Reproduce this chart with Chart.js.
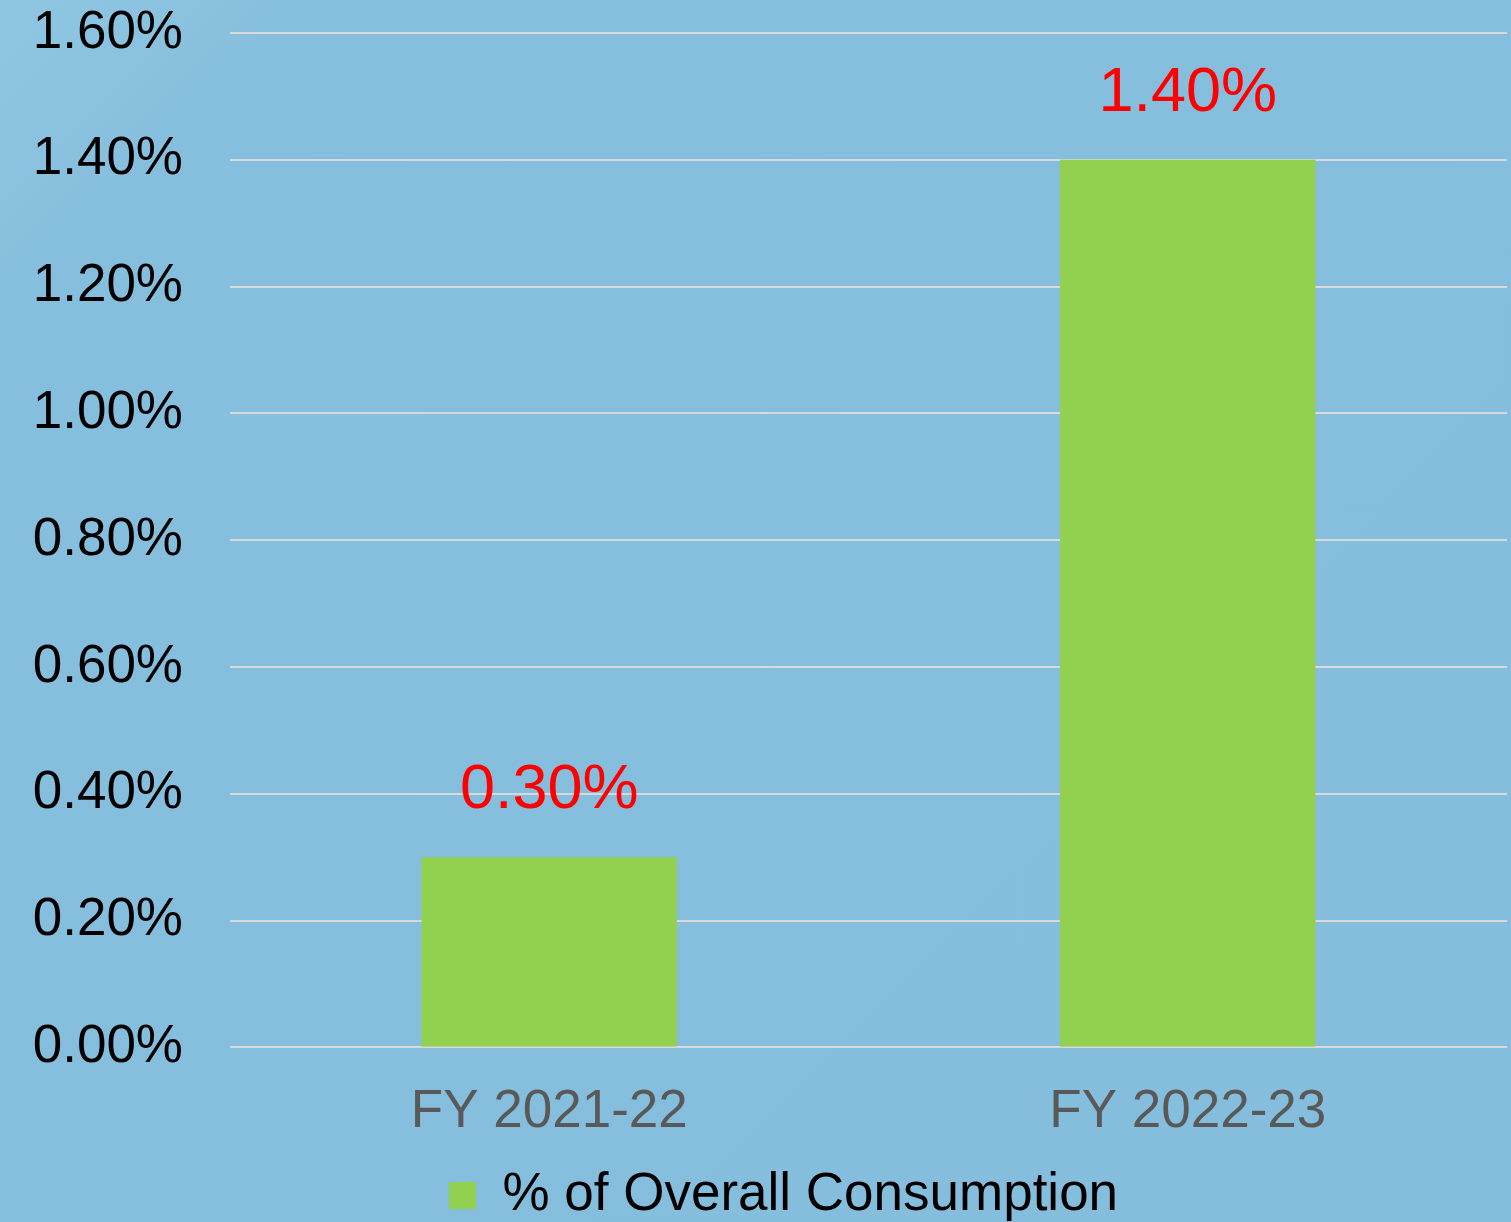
<!DOCTYPE html>
<html>
<head>
<meta charset="utf-8">
<script src="https://cdn.jsdelivr.net/npm/chart.js@4/dist/chart.umd.min.js"></script>
<style>
  html, body { margin: 0; padding: 0; }
  #wrap {
    width: 1511px; height: 1222px;
    background: linear-gradient(135deg, #8fc6e2 0%, #86bedd 12%, #85bddc 100%);
  }
</style>
</head>
<body>
<div id="wrap"><canvas id="chart"></canvas></div>
<script>
// ================== Data ==================
const categories = ['FY 2021-22', 'FY 2022-23'];
const seriesName = '% of Overall Consumption';
const shareValues = [0.30, 1.40];   // percent
const yTicks = { min: 0, max: 1.6, step: 0.2 };

const FONT = 'Arial, "Liberation Sans", sans-serif';

// Plugin: red value labels above bars
const ValueLabelPlugin = {
  id: 'valueLabels',
  afterDatasetsDraw(chart) {
    const { ctx } = chart;
    const meta = chart.getDatasetMeta(0);
    ctx.save();
    ctx.font = `63px ${FONT}`;
    ctx.fillStyle = '#ff0000';
    ctx.textAlign = 'center';
    ctx.textBaseline = 'alphabetic';
    meta.data.forEach((bar, i) => {
      const v = chart.data.datasets[0].data[i];
      ctx.fillText(v.toFixed(2) + '%', bar.x, bar.y - 49);
    });
    ctx.restore();
  }
};

// Plugin: nudge the centred legend a little to the right
const LegendShiftPlugin = {
  id: 'legendShift',
  afterLayout(chart) {
    if (chart.legend) chart.legend.left += 60;
  }
};

new Chart(document.getElementById('chart'), {
  type: 'bar',
  plugins: [ValueLabelPlugin, LegendShiftPlugin],
  data: {
    labels: categories,
    datasets: [{
      label: seriesName,
      data: shareValues,
      backgroundColor: '#92d050',
      borderWidth: 0,
      categoryPercentage: 1,
      barPercentage: 0.4
    }]
  },
  options: {
    responsive: true,
    maintainAspectRatio: false,
    animation: false,
    layout: { padding: { top: 33, right: 4, left: 0, bottom: -10 } },
    plugins: {
      tooltip: { enabled: false },
      legend: {
        position: 'bottom',
        labels: {
          color: '#000000',
          font: { family: FONT, size: 53 },
          boxWidth: 27,
          boxHeight: 27,
          padding: 0
        }
      }
    },
    scales: {
      x: {
        grid: { display: false },
        border: { display: false },
        ticks: { color: '#595959', font: { family: FONT, size: 53 }, padding: 25 }
      },
      y: {
        min: yTicks.min,
        max: yTicks.max,
        border: { display: false },
        grid: { color: '#d9d9d9', lineWidth: 2, drawTicks: false },
        ticks: {
          stepSize: yTicks.step,
          color: '#000000',
          font: { family: FONT, size: 53 },
          padding: 47,
          callback: v => v.toFixed(2) + '%'
        },
        afterFit(scale) {
          scale.width = 230;
          scale.paddingTop = 0;
          scale.paddingBottom = 0;
        }
      }
    }
  }
});
</script>
</body>
</html>
